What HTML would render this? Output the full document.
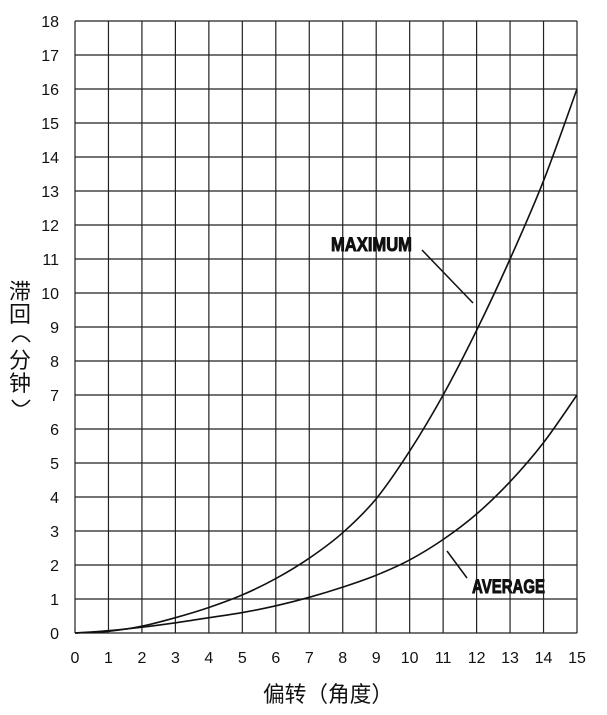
<!DOCTYPE html>
<html><head><meta charset="utf-8"><style>
body{margin:0;background:#fff;width:607px;height:715px;overflow:hidden}
svg{display:block}
.t{font-family:"Liberation Sans",sans-serif;font-size:16px;fill:#111}
.c{font-family:"Liberation Sans","Noto Sans CJK SC",sans-serif;font-size:22px;fill:#111}
.b{font-family:"Liberation Sans",sans-serif;font-weight:bold;font-size:19px;fill:#111;stroke:#111;stroke-width:0.9}
</style></head><body>
<svg id="s" width="607" height="715" xmlns="http://www.w3.org/2000/svg">
<g id="grid" stroke="#222" stroke-width="1.2"></g>
<g id="lbl"></g>
<path id="pmax" fill="none" stroke="#111" stroke-width="1.6"/>
<path id="pavg" fill="none" stroke="#111" stroke-width="1.6"/>
<line x1="422" y1="250" x2="473" y2="303" stroke="#111" stroke-width="1.5"/>
<line x1="447" y1="551" x2="467" y2="578" stroke="#111" stroke-width="1.5"/>
<text class="b" x="331" y="251" textLength="81" lengthAdjust="spacingAndGlyphs">MAXIMUM</text>
<text class="b" x="472" y="593" textLength="73" lengthAdjust="spacingAndGlyphs">AVERAGE</text>
<text class="c" x="263" y="702" textLength="130" lengthAdjust="spacingAndGlyphs">偏转（角度）</text>
<text class="c" x="9" y="299">滞</text>
<text class="c" x="9" y="322">回</text>
<path d="M12 342 Q20 330 30 342" fill="none" stroke="#111" stroke-width="1.6"/>
<text class="c" x="9" y="368">分</text>
<text class="c" x="9" y="391">钟</text>
<path d="M12 400 Q20 412 30 400" fill="none" stroke="#111" stroke-width="1.6"/>
</svg>
<script>
var X0=75,X1=577,Y0=633,Y1=21,ns="http://www.w3.org/2000/svg";
function px(x){return X0+(X1-X0)*x/15}function py(y){return Y0-(Y0-Y1)*y/18}
var g=document.getElementById('grid'),l=document.getElementById('lbl');
function el(p,t,a,txt){var e=document.createElementNS(ns,t);for(var k in a)e.setAttribute(k,a[k]);if(txt!=null)e.textContent=txt;p.appendChild(e);}
for(var i=0;i<=15;i++){el(g,'line',{x1:px(i),x2:px(i),y1:Y1,y2:Y0});el(l,'text',{class:'t',x:px(i),y:663,'text-anchor':'middle'},i);}
for(var j=0;j<=18;j++){el(g,'line',{x1:X0,x2:X1,y1:py(j),y2:py(j)});el(l,'text',{class:'t',x:59,y:py(j)+6,'text-anchor':'end'},j);}
function path(v){var p=v.map(function(y,i){return[px(i),py(y)]});var d='M'+p[0][0]+' '+p[0][1];
for(var i=0;i<p.length-1;i++){var a=p[Math.max(i-1,0)],b=p[i],c=p[i+1],e=p[Math.min(i+2,p.length-1)];
d+=' C'+(b[0]+(c[0]-a[0])/6)+' '+(b[1]+(c[1]-a[1])/6)+' '+(c[0]-(e[0]-b[0])/6)+' '+(c[1]-(e[1]-b[1])/6)+' '+c[0]+' '+c[1];}return d;}
document.getElementById('pmax').setAttribute('d',path([0,0.05,0.2,0.45,0.75,1.12,1.6,2.2,2.95,3.95,5.35,7.0,8.9,11.0,13.3,16]));
document.getElementById('pavg').setAttribute('d',path([0,0.07,0.17,0.3,0.45,0.6,0.8,1.05,1.35,1.7,2.15,2.75,3.5,4.45,5.6,7]));
</script>
</body></html>
